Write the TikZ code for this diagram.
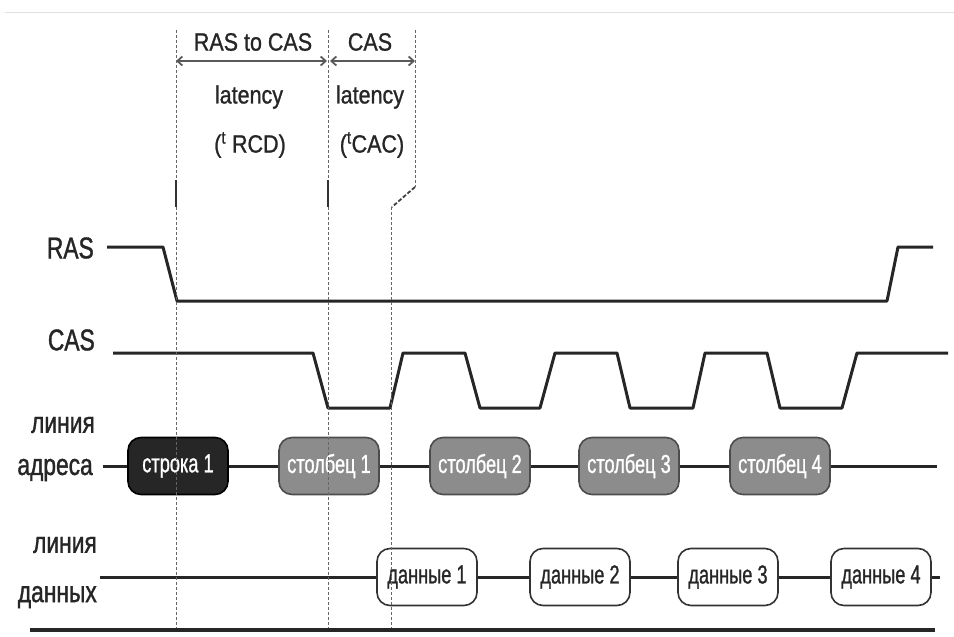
\documentclass[tikz,border=0pt]{standalone}
\usepackage{fontspec}
\setmainfont{Liberation Sans}
\newfontfamily\labfont[FakeStretch=0.76,FakeBold=1.2]{Liberation Sans}
\newfontfamily\topfont[FakeStretch=0.86,FakeBold=1]{Liberation Sans}
\newfontfamily\boxfont[FakeStretch=0.70,FakeBold=1]{Liberation Sans}
\usetikzlibrary{arrows.meta}
\begin{document}
\begin{tikzpicture}[x=1pt,y=-1pt,
  sig/.style={line width=3pt, line join=round, black!85},
  guide/.style={black!60, line width=0.8pt, dash pattern=on 3pt off 2pt},
  tick/.style={black!80, line width=1.6pt},
  dimarrow/.style={black!65, line width=1.8pt, {Straight Barb[length=5pt,width=9pt]}-{Straight Barb[length=5pt,width=9pt]}},
  lbl/.style={font=\labfont\fontsize{30}{30}\selectfont, anchor=east, inner sep=0pt, text=black!85},
  toplbl/.style={font=\topfont\fontsize{25}{25}\selectfont, inner sep=0pt, text=black!85},
  box/.style={rounded corners=13pt, minimum width=100pt, minimum height=57pt, line width=1.6pt, inner sep=0pt, font=\boxfont\fontsize{26}{26}\selectfont},
  darkbox/.style={box, fill=black!85, draw=black, text=white!80},
  greybox/.style={box, fill=black!45, draw=black!70, text=white},
  databox/.style={box, fill=white, draw=black!80, text=black!85},
]
\useasboundingbox (0,0) rectangle (954,637);
% top grey rule
\draw[black!12, line width=1pt] (5,12) -- (954,12);

% dimension labels
\node[toplbl] (t1) at (253,42) {RAS to CAS};
\node[toplbl] (t2) at (370,42) {CAS};
\node[toplbl] (t3) at (249,97) {latency};
\node[toplbl] (t4) at (250,145) {(\textsuperscript{t} RCD)};
\node[toplbl] (t5) at (370,97) {latency};
\node[toplbl] (t6) at (372,145) {(\textsuperscript{t}CAC)};

\coordinate (a1) at (176,61);
\coordinate (a2) at (327,61);
\coordinate (a3) at (330,61);
\coordinate (a4) at (415,61);
\draw[dimarrow] (a1) -- (a2);
\draw[dimarrow] (a3) -- (a4);

% signal labels
\node[lbl] (lras) at (94,248) {RAS};
\node[lbl] (lcas) at (95,340) {CAS};
\node[lbl] (la1) at (95,425) {линия};
\node[lbl] (la2) at (93,470) {адреса};
\node[lbl] (ld1) at (97,545) {линия};
\node[lbl] (ld2) at (97,597) {данных};

% RAS
\draw[sig] (107,247) -- (163,247) -- (177,301) -- (887,301) -- (898,247) -- (933,247);
% CAS
\draw[sig] (113,353) -- (313,353) -- (328,408) -- (390,408) -- (403,353) -- (465,353)
  -- (480,408) -- (540,408) -- (555,353) -- (617,353) -- (630,408) -- (693,408)
  -- (705,353) -- (767,353) -- (780,408) -- (842,408) -- (857,353) -- (948,353);

% address line
\node[darkbox] (s1) at (178,466) {строка 1};
\node[greybox] (c1) at (329,466) {столбец 1};
\node[greybox] (c2) at (480,466) {столбец 2};
\node[greybox] (c3) at (629,466) {столбец 3};
\node[greybox] (c4) at (780,466) {столбец 4};
\coordinate (as) at (103,466);
\coordinate (ae) at (937,466);
\draw[sig] (as) -- (s1);
\draw[sig] (s1) -- (c1);
\draw[sig] (c1) -- (c2);
\draw[sig] (c2) -- (c3);
\draw[sig] (c3) -- (c4);
\draw[sig] (c4) -- (ae);

% data line
\node[databox] (d1) at (427,577) {данные 1};
\node[databox] (d2) at (580,577) {данные 2};
\node[databox] (d3) at (728,577) {данные 3};
\node[databox] (d4) at (881,577) {данные 4};
\coordinate (ds) at (100,577);
\coordinate (de) at (940,577);
\draw[sig] (ds) -- (d1);
\draw[sig] (d1) -- (d2);
\draw[sig] (d2) -- (d3);
\draw[sig] (d3) -- (d4);
\draw[sig] (d4) -- (de);

% guides
\draw[guide] (176,30) -- (176,180);
\draw[tick] (176,180) -- (176,207);
\draw[guide] (176,207) -- (176,630);
\draw[guide] (328,30) -- (328,180);
\draw[tick] (328,180) -- (328,207);
\draw[guide] (328,207) -- (328,630);
\draw[guide] (415,30) -- (415,187);
\draw[black!75, line width=1.8pt, dash pattern=on 4pt off 2pt] (415,187) -- (392,207);
\draw[guide] (391,207) -- (391,630);

% bottom rule
\draw[line width=4pt, black!85] (30,630) -- (935,630);
\end{tikzpicture}
\end{document}
